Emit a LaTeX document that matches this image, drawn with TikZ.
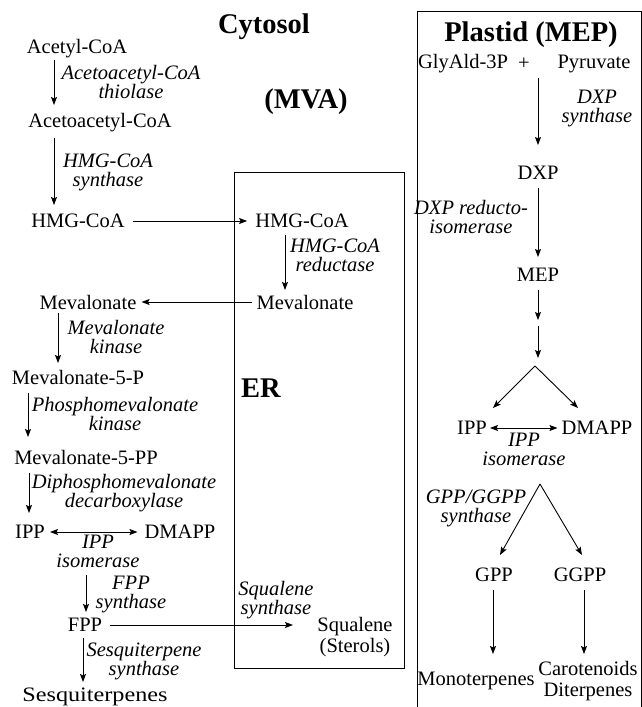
\documentclass[tikz,border=0pt]{standalone}
\usepackage{fontspec}
\setmainfont{Liberation Serif}
\usetikzlibrary{arrows.meta}
\begin{document}
\begin{tikzpicture}[x=1pt,y=-1pt,
  txt/.style={font=\fontsize{20.5}{21}\selectfont, inner sep=0pt, align=center},
  lab/.style={font=\fontsize{20.5}{19}\selectfont\itshape, inner sep=0pt, align=center},
  ttl/.style={font=\fontsize{28.5}{30}\selectfont\bfseries, inner sep=0pt},
  tip/.tip={Stealth[length=8pt,width=6pt,inset=1.5pt]},
  arr/.style={-tip, line width=0.9pt},
  dbl/.style={tip-tip, line width=0.9pt},
  boxline/.style={line width=1pt}]
\useasboundingbox (0,0) rectangle (642,707);
% compartments
\draw[boxline] (234,172) rectangle (404,668);
\draw[boxline] (417,712) -- (417,11) -- (641,11) -- (641,712);
% titles
\node[ttl] (cyt) at (264,27) {Cytosol};
\node[ttl] (mva) at (306,102) {(MVA)};
\node[ttl] (er) at (261,388) {ER};
\node[ttl] (pla) at (531,35) {Plastid (MEP)};
% ---- cytosol / MVA
\node[txt] (acetyl) at (77,49) {Acetyl-CoA};
\node[lab] (l1) at (131,82) {Acetoacetyl-CoA\\thiolase};
\node[txt] (acac) at (100,123) {Acetoacetyl-CoA};
\node[lab] (l2) at (108,172) {HMG-CoA\\synthase};
\node[txt] (hmg1) at (78,221) {HMG-CoA};
\node[txt] (hmg2) at (302,221) {HMG-CoA};
\node[lab] (l3) at (335,255) {HMG-CoA\\reductase};
\node[txt] (mev2) at (305,302) {Mevalonate};
\node[txt] (mev1) at (88,302) {Mevalonate};
\node[lab] (l4) at (116,337) {Mevalonate\\kinase};
\node[txt] (m5p) at (78,377) {Mevalonate-5-P};
\node[lab] (l5) at (115,414) {Phosphomevalonate\\kinase};
\node[txt] (m5pp) at (86,457) {Mevalonate-5-PP};
\node[lab] (l6) at (124,493) {Diphosphomevalonate\\decarboxylase};
\node[txt] (ipp1) at (30,532) {IPP};
\node[txt] (dmapp1) at (180,532) {DMAPP};
\node[lab] (l7) at (98,551) {IPP\\isomerase};
\node[lab] (l8) at (131,594) {FPP\\synthase};
\node[txt] (fpp) at (85,625) {FPP};
\node[lab] (l9) at (276,600) {Squalene\\synthase};
\node[txt] (sq) at (355,637) {Squalene\\(Sterols)};
\node[lab] (l10) at (144,661) {Sesquiterpene\\synthase};
\node[txt] (sesq) at (95,697) {\scalebox{1.18}[1]{Sesquiterpenes}};
% arrow end points
\coordinate (a1s) at (54,60);  \coordinate (a1e) at (54,105);
\coordinate (a2s) at (54,138); \coordinate (a2e) at (54,205);
\coordinate (a3s) at (285,235); \coordinate (a3e) at (285,290);
\coordinate (a4s) at (58,313); \coordinate (a4e) at (58,363);
\coordinate (a5s) at (28,393); \coordinate (a5e) at (28,437);
\coordinate (a6s) at (29,473); \coordinate (a6e) at (29,513);
\coordinate (a7s) at (86,575); \coordinate (a7e) at (86,612);
\coordinate (sqin) at (293,625);
\coordinate (a8s) at (83,638); \coordinate (a8e) at (83,682);
\draw[arr] (a1s) -- (a1e);
\draw[arr] (a2s) -- (a2e);
\draw[arr, shorten <=8pt, shorten >=8pt] (hmg1) -- (hmg2);
\draw[arr] (a3s) -- (a3e);
\draw[arr, shorten <=4pt, shorten >=5pt] (mev2) -- (mev1);
\draw[arr] (a4s) -- (a4e);
\draw[arr] (a5s) -- (a5e);
\draw[arr] (a6s) -- (a6e);
\draw[dbl, shorten <=5pt, shorten >=7pt] (ipp1) -- (dmapp1);
\draw[arr] (a7s) -- (a7e);
\draw[arr, shorten <=8pt] (fpp) -- (sqin);
\draw[arr] (a8s) -- (a8e);
% ---- plastid / MEP
\node[txt] (gly) at (463,64) {GlyAld-3P};
\node[txt] (plus) at (524,64) {+};
\node[txt] (pyr) at (594,64) {Pyruvate};
\node[lab] (l11) at (597,108) {DXP\\synthase};
\node[txt] (dxp) at (538,173) {DXP};
\node[lab] (l12) at (471,217) {DXP reducto-\\isomerase};
\node[txt] (mep) at (538,275) {MEP};
\node[txt] (ipp2) at (472,428) {IPP};
\node[txt] (dmapp2) at (597,428) {DMAPP};
\node[lab] (l13) at (524,449) {IPP\\isomerase};
\node[lab] (l14) at (476,508) {GPP/GGPP\\synthase};
\node[txt] (gpp) at (494,575) {GPP};
\node[txt] (ggpp) at (580,575) {GGPP};
\node[txt] (mono) at (476,681) {Monoterpenes};
\node[txt] (caro) at (588,681) {Carotenoids\\Diterpenes};
\coordinate (b1s) at (538,78);  \coordinate (b1e) at (538,145);
\coordinate (b2s) at (538,188); \coordinate (b2e) at (538,257);
\coordinate (b3s) at (538,290); \coordinate (b3e) at (538,320);
\coordinate (b4s) at (538,326); \coordinate (b4e) at (538,358);
\coordinate (apx1) at (535,366);
\coordinate (t1) at (493,408); \coordinate (t2) at (578,408);
\coordinate (apx2) at (540,484);
\coordinate (t3) at (500,555); \coordinate (t4) at (582,555);
\coordinate (b5s) at (493,590); \coordinate (b5e) at (493,654);
\coordinate (b6s) at (584,590); \coordinate (b6e) at (584,654);
\draw[arr] (b1s) -- (b1e);
\draw[arr] (b2s) -- (b2e);
\draw[arr] (b3s) -- (b3e);
\draw[arr] (b4s) -- (b4e);
\draw[arr] (apx1) -- (t1);
\draw[arr] (apx1) -- (t2);
\draw[dbl, shorten <=3pt, shorten >=4pt] (ipp2) -- (dmapp2);
\draw[arr] (apx2) -- (t3);
\draw[arr] (apx2) -- (t4);
\draw[arr] (b5s) -- (b5e);
\draw[arr] (b6s) -- (b6e);
\end{tikzpicture}
\end{document}
